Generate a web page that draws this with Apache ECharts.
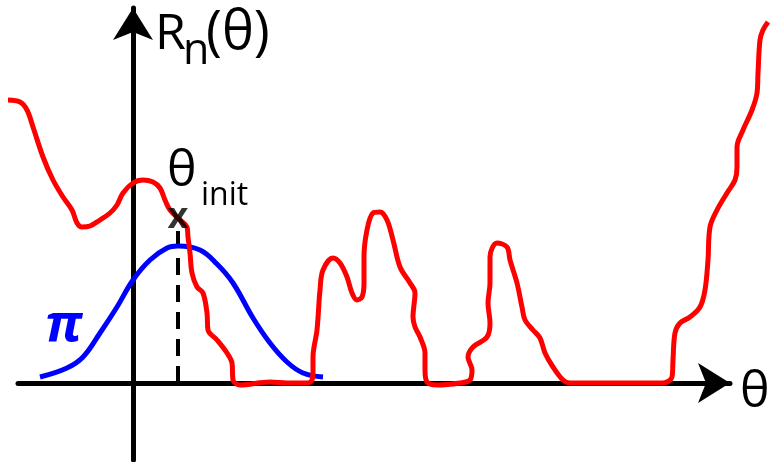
<!DOCTYPE html>
<html>
<head>
<meta charset="utf-8">
<title>R_n(θ)</title>
<script src="https://cdn.jsdelivr.net/npm/echarts@6/dist/echarts.min.js"></script>
<style>
  html, body { margin: 0; padding: 0; background: #fff; }
  #chart { width: 771px; height: 462px; }
</style>
</head>
<body>
<div id="chart"></div>
<script>
// R_n(θ) curve (x = θ, y = R_n), origin at the axes crossing
const redCurve = [
  [-125, 283], [-113, 281], [-106, 273], [-100, 256], [-90, 226], [-80, 203],
  [-70, 186], [-61, 173], [-56, 160], [-51, 156], [-43, 157], [-33, 163],
  [-23, 170], [-16, 178], [-10, 190], [0, 200], [10, 203], [20, 201],
  [27, 195], [32, 183], [37, 173], [47, 163], [54, 156], [55, 146],
  [57, 130], [59, 110], [64, 96], [70, 90], [74, 70], [75, 53],
  [84, 43], [94, 30], [99, 20], [100, 3], [107, -2], [137, 1],
  [154, 0], [174, 0], [179, 3], [180, 13], [180, 26], [184, 53],
  [187, 93], [190, 113], [200, 125], [207, 120], [214, 106], [219, 90],
  [224, 83], [229, 86], [231, 100], [231, 126], [234, 153], [240, 170],
  [247, 171], [254, 163], [260, 143], [267, 116], [277, 100], [282, 90],
  [280, 66], [282, 56], [287, 46], [292, 30], [292, 13], [294, 1],
  [304, -2], [327, 0], [337, 3], [339, 13], [335, 26], [340, 36],
  [354, 46], [357, 60], [355, 80], [357, 100], [357, 126], [364, 140],
  [374, 136], [377, 123], [384, 100], [389, 76], [392, 63], [400, 53],
  [407, 45], [412, 30], [420, 16], [430, 3], [437, 0], [530, 0],
  [539, 6], [540, 23], [542, 50], [547, 60], [557, 66], [567, 76],
  [572, 93], [575, 123], [577, 156], [584, 173], [594, 190], [602, 203],
  [604, 216], [604, 236], [610, 253], [619, 273], [624, 290], [625, 310],
  [627, 343], [630, 353], [635, 361]
];

// prior π (blue bump)
const priorCurve = [
  [-93, 6], [-66, 15], [-50, 26], [-33, 50], [-16, 76], [0, 103],
  [17, 123], [34, 135], [45, 137], [67, 133], [84, 119], [100, 100],
  [120, 65], [137, 40], [154, 21], [170, 10], [190, 6]
];

// θ_init marker and its dashed drop line
const thetaInit = [45, 165];
const dropLine = [[45, 0], [45, 155]];

const chart = echarts.init(document.getElementById('chart'));

const hidden = {
  axisLine: { show: false }, axisTick: { show: false },
  axisLabel: { show: false }, splitLine: { show: false }
};

// visible axes with arrows (grid 1), same scale/origin as the data grid
const axisLine = {
  show: true,
  onZero: true,
  symbol: ['none', 'arrow'],
  symbolSize: [30, 32],
  lineStyle: { color: '#000', width: 5 }
};

const font = '"Open Sans", "DejaVu Sans", sans-serif';

chart.setOption({
  animation: false,
  grid: [
    { left: 0, right: 0, top: 0, bottom: 0 },
    { left: 18, right: 41, top: 8, bottom: 2 }
  ],
  xAxis: [
    { type: 'value', gridIndex: 0, min: -133, max: 638, ...hidden },
    {
      type: 'value', gridIndex: 1, min: -115, max: 597,
      axisLine: axisLine,
      axisTick: { show: false }, axisLabel: { show: false }, splitLine: { show: false }
    }
  ],
  yAxis: [
    { type: 'value', gridIndex: 0, min: -79, max: 383, ...hidden },
    {
      type: 'value', gridIndex: 1, min: -77, max: 375,
      axisLine: axisLine,
      axisTick: { show: false }, axisLabel: { show: false }, splitLine: { show: false }
    }
  ],
  series: [
    {
      type: 'line',
      data: dropLine,
      symbol: 'none',
      lineStyle: { color: '#000', width: 4, type: [17, 10] },
      z: 2
    },
    {
      type: 'line',
      data: priorCurve,
      smooth: 0.4,
      symbol: 'none',
      lineStyle: { color: '#0000ff', width: 5 },
      z: 3
    },
    {
      type: 'line',
      data: redCurve,
      smooth: 0.35,
      symbol: 'none',
      lineStyle: { color: '#ff0000', width: 5 },
      z: 4
    },
    {
      type: 'scatter',
      data: [thetaInit],
      symbolSize: 0,
      label: {
        show: true, position: 'inside', formatter: 'x',
        fontFamily: font, fontSize: 36, fontWeight: 'bold', color: '#000'
      },
      z: 5
    }
  ],
  graphic: [
    { type: 'text', style: { text: 'R', x: 155, y: 35, verticalAlign: 'middle', font: '50px ' + font, fill: '#000' } },
    { type: 'text', style: { text: 'n', x: 183, y: 52, verticalAlign: 'middle', font: '43px ' + font, fill: '#000' } },
    { type: 'text', style: { text: '(θ)', x: 206, y: 34, verticalAlign: 'middle', font: '54px ' + font, fill: '#000' } },
    { type: 'text', style: { text: 'θ', x: 167, y: 172, verticalAlign: 'middle', font: '50px ' + font, fill: '#000' } },
    { type: 'text', style: { text: 'init', x: 201, y: 196, verticalAlign: 'middle', font: '32px ' + font, fill: '#000' } },
    { type: 'text', style: { text: 'θ', x: 740, y: 393, verticalAlign: 'middle', font: '50px ' + font, fill: '#000' } },
    { type: 'text', style: { text: 'π', x: 45, y: 326, verticalAlign: 'middle', font: 'italic bold 52px ' + font, fill: '#0000ff' } }
  ]
});
</script>
</body>
</html>
